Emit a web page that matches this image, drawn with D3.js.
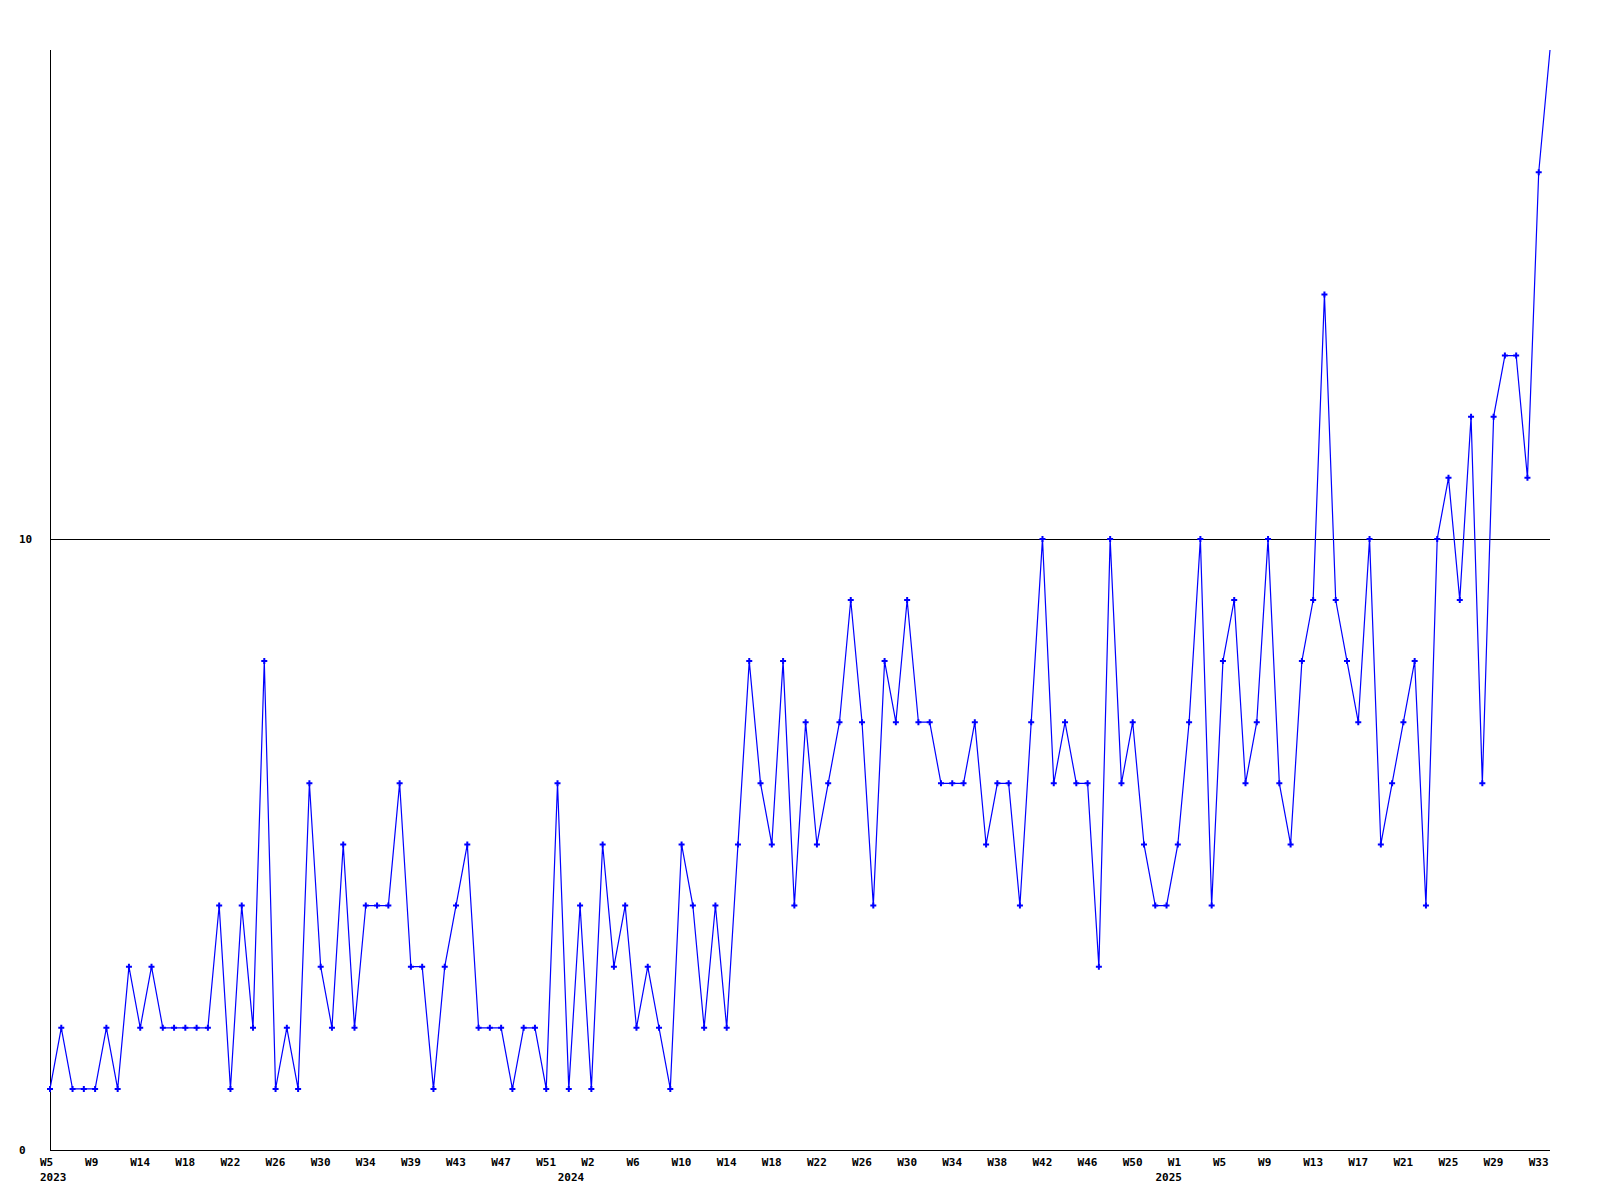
<!DOCTYPE html>
<html>
<head>
<meta charset="utf-8">
<script src="https://cdn.jsdelivr.net/npm/d3@7"></script>
<style>
  html, body { margin: 0; padding: 0; background: #ffffff; }
  svg { display: block; }
  text { font-family: "DejaVu Sans Mono", "Liberation Mono", monospace; font-weight: bold; font-size: 11px; fill: #000; }
</style>
</head>
<body>
<svg id="chart" width="1600" height="1200"></svg>
<script>
// Weekly counts, 2023 W5 .. 2025 W34
const values = [
  1,2,1,1,1,2,1,3,2,3,2,2,2,2,2,4,1,4,2,8,
  1,2,1,6,3,2,5,2,4,4,4,6,3,3,1,3,4,5,2,2,
  2,1,2,2,1,6,1,4,1,5,3,4,2,3,2,1,5,4,2,4,
  2,5,8,6,5,8,4,7,5,6,7,9,7,4,8,7,9,7,7,6,
  6,6,7,5,6,6,4,7,10,6,7,6,6,3,10,6,7,5,4,4,
  5,7,10,4,8,9,6,7,10,6,5,8,9,14,9,8,7,10,5,6,
  7,8,4,10,11,9,12,6,12,13,13,11,16,18
];
// Week tick labels, one for every 4th point
const weekLabels = [
  "W5","W9","W14","W18","W22","W26","W30","W34","W39","W43","W47","W51",
  "W2","W6","W10","W14","W18","W22","W26","W30","W34","W38","W42","W46","W50",
  "W1","W5","W9","W13","W17","W21","W25","W29","W33"
];
const weekStep = 4;
// Year labels and their position in point-index units
const yearLabels = ["2023","2024","2025"];
const yearIndex = [0, 45.9, 98.9];
// Y axis labels
const yTicks = [0, 10];
const yGrid = [10];
const yMax = 18;

(function () {
  const svg = d3.select("#chart");
  const mLeft = 50, mRight = 1550, mTop = 50, mBottom = 1150;

  const x = d3.scaleLinear().domain([0, values.length - 1]).range([mLeft, mRight]);
  const y = d3.scaleLinear().domain([0, yMax]).range([mBottom, mTop]);
  const px = v => Math.round(v) + 0.5;

  svg.append("rect").attr("width", 1600).attr("height", 1200).attr("fill", "#fff");

  svg.append("defs").append("clipPath").attr("id", "mclip")
    .append("rect").attr("x", 0).attr("y", mTop + 3)
    .attr("width", 1600).attr("height", 1200);

  // grid line(s)
  svg.selectAll("line.grid").data(yGrid).enter().append("line")
    .attr("class", "grid")
    .attr("x1", mLeft).attr("x2", mRight)
    .attr("y1", d => px(y(d))).attr("y2", d => px(y(d)))
    .attr("stroke", "#000").attr("stroke-width", 1)
    .attr("shape-rendering", "crispEdges");

  // axes
  svg.append("line")
    .attr("x1", px(mLeft)).attr("x2", px(mLeft))
    .attr("y1", mTop).attr("y2", px(mBottom))
    .attr("stroke", "#000").attr("stroke-width", 1).attr("shape-rendering", "crispEdges");
  svg.append("line")
    .attr("x1", px(mLeft)).attr("x2", mRight)
    .attr("y1", px(mBottom)).attr("y2", px(mBottom))
    .attr("stroke", "#000").attr("stroke-width", 1).attr("shape-rendering", "crispEdges");

  // y labels
  svg.selectAll("text.ylab").data(yTicks).enter().append("text")
    .attr("class", "ylab")
    .attr("x", 19)
    .attr("y", d => y(d) + 4)
    .text(d => d);

  // x week labels
  svg.selectAll("text.xlab").data(weekLabels).enter().append("text")
    .attr("class", "xlab")
    .attr("x", (d, i) => x(i * weekStep) - 10)
    .attr("y", mBottom + 16)
    .text(d => d);

  // year labels
  svg.selectAll("text.year").data(yearLabels).enter().append("text")
    .attr("class", "year")
    .attr("x", (d, i) => x(yearIndex[i]) - 10)
    .attr("y", mBottom + 31)
    .text(d => d);

  // line
  const line = d3.line().x((d, i) => x(i)).y(d => y(d));
  svg.append("path")
    .datum(values)
    .attr("d", line)
    .attr("fill", "none")
    .attr("stroke", "#0000ff")
    .attr("stroke-width", 1.2);

  // markers
  const cross = d3.symbol().type(d3.symbolCross).size(20);
  svg.append("g").attr("clip-path", "url(#mclip)")
    .selectAll("path.pt").data(values).enter().append("path")
    .attr("class", "pt")
    .attr("d", cross)
    .attr("transform", (d, i) => `translate(${x(i)},${y(d)})`)
    .attr("fill", "#0000ff");
})();
</script>
</body>
</html>
